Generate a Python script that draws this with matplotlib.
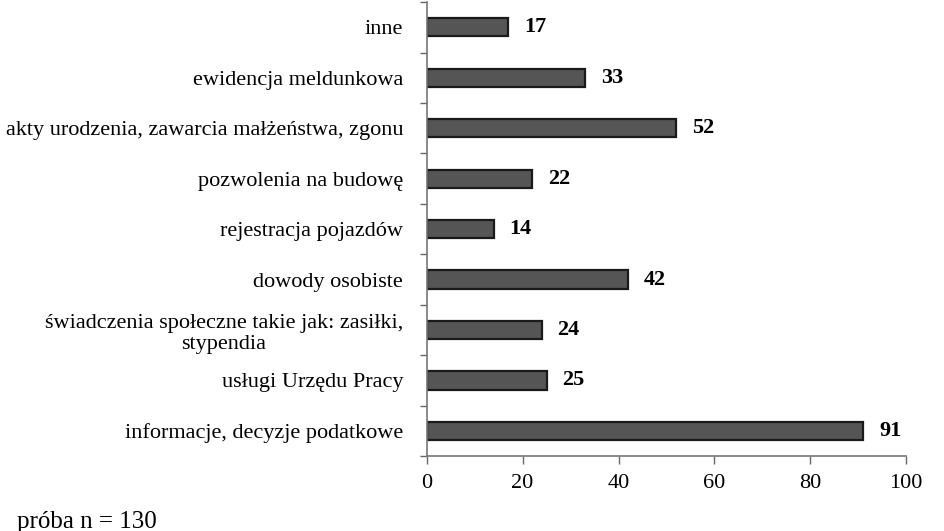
import matplotlib
matplotlib.use("Agg")
import matplotlib.pyplot as plt
import numpy as np

categories = [
    "inne",
    "ewidencja meldunkowa",
    "akty urodzenia, zawarcia małżeństwa, zgonu",
    "pozwolenia na budowę",
    "rejestracja pojazdów",
    "dowody osobiste",
    "świadczenia społeczne takie jak: zasiłki,\nstypendia",
    "usługi Urzędu Pracy",
    "informacje, decyzje podatkowe",
]
values = [17, 33, 52, 22, 14, 42, 24, 25, 91]
x_ticks = [0, 20, 40, 60, 80, 100]

plt.rcParams["font.family"] = ["Liberation Serif", "DejaVu Serif"]

fig = plt.figure(figsize=(9.44, 5.31), dpi=100)
ax = fig.add_axes([0.452, 0.141, 0.508, 0.855])

y = np.arange(len(categories))
ax.barh(y, values, height=0.36, color="#555555", edgecolor="#1a1a1a", linewidth=1.6)
ax.set_ylim(len(categories) - 0.5, -0.5)
ax.set_xlim(0, 100)

ax.set_yticks(y)
ax.set_yticklabels(categories, fontsize=16, ha="right", multialignment="center")
ax.tick_params(axis="y", which="major", length=0, pad=17)
ax.set_yticks(np.arange(-0.5, len(categories), 1), minor=True)
ax.tick_params(axis="y", which="minor", length=5, color="#666666", width=1)

ax.set_xticks(x_ticks)
ax.set_xticklabels([str(t) for t in x_ticks], fontsize=16)
ax.tick_params(axis="x", length=6, color="#666666", width=1, pad=7)

for s in ["top", "right"]:
    ax.spines[s].set_visible(False)
for s in ["left", "bottom"]:
    ax.spines[s].set_color("#777777")
    ax.spines[s].set_linewidth(1.2)

for yi, v in zip(y, values):
    ax.text(v + 3.3, yi, str(v), va="center", ha="left", fontsize=16, fontweight="bold")

fig.text(0.018, 0.006, "próba n = 130", fontsize=18, ha="left", va="baseline")

fig.savefig("out.png", dpi=100)
